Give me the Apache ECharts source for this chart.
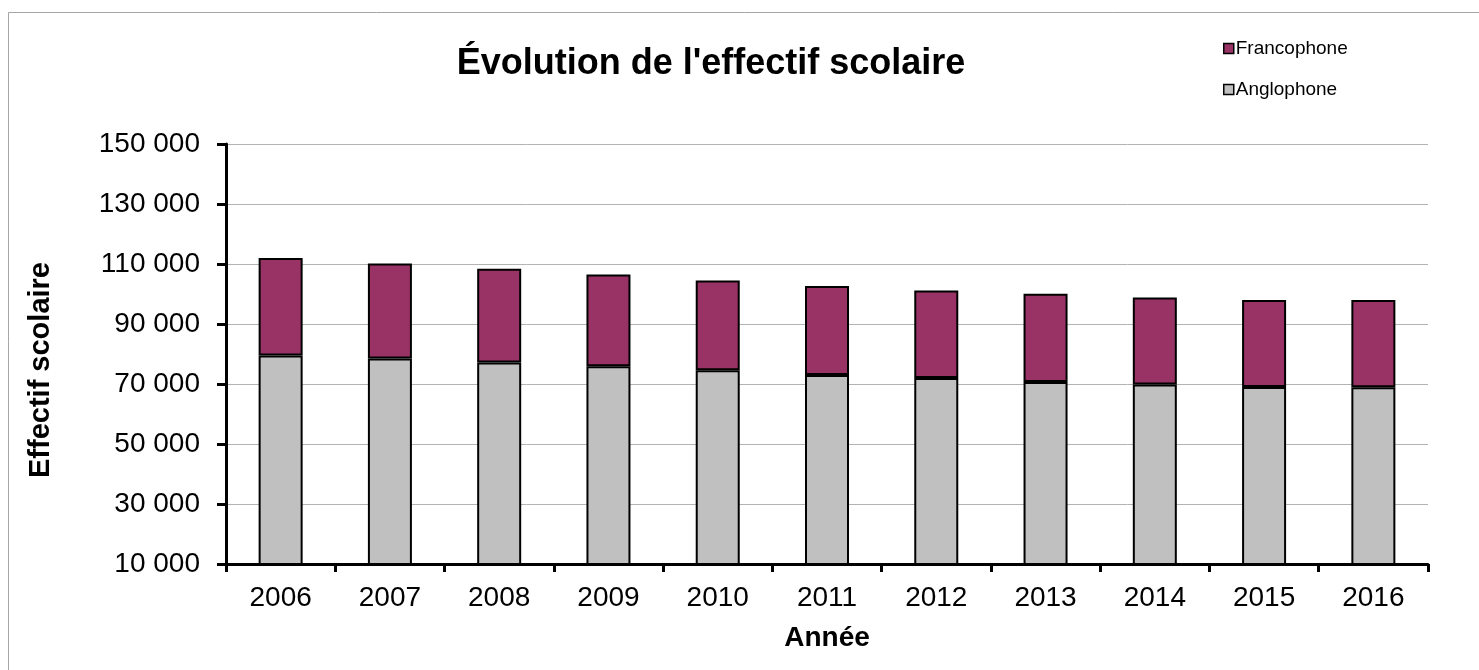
<!DOCTYPE html>
<html>
<head>
<meta charset="utf-8">
<script src="https://cdn.jsdelivr.net/npm/echarts@6/dist/echarts.min.js"></script>
<style>
  html, body { margin: 0; padding: 0; background: #fff; }
  #chart { width: 1479px; height: 670px; }
</style>
</head>
<body>
<div id="chart"></div>
<script>
// données
const annees = ['2006', '2007', '2008', '2009', '2010', '2011', '2012', '2013', '2014', '2015', '2016'];
const anglophone = [79500, 78500, 77200, 75900, 74600, 73000, 72000, 70700, 69800, 69000, 68900];
const francophone = [32500, 31700, 31200, 30600, 29900, 29650, 29200, 29400, 29050, 29000, 29100];

const police = 'Liberation Sans, Arial, sans-serif';

const chart = echarts.init(document.getElementById('chart'));

// format "150 000"
function formatMilliers(v) {
    return String(v).replace(/\B(?=(\d{3})+(?!\d))/g, ' ');
}

const option = {
    backgroundColor: '#fff',
    animation: false,
    title: {
        text: "Évolution de l'effectif scolaire",
        left: 706,
        top: 41,
        textAlign: 'center',
        textStyle: { fontFamily: police, fontSize: 36, fontWeight: 'bold', color: '#000' }
    },
    legend: {
        orient: 'vertical',
        left: 1218,
        top: 34,
        itemWidth: 10,
        itemHeight: 10,
        itemGap: 22,
        icon: 'rect',
        data: ['Francophone', 'Anglophone'],
        itemStyle: { borderColor: '#000', borderWidth: 1.5 },
        textStyle: { fontFamily: police, fontSize: 19, color: '#000', padding: [0, 0, 0, -3] }
    },
    graphic: [{
        type: 'rect',
        shape: { x: 8.5, y: 12.5, width: 1500, height: 700 },
        style: { fill: 'none', stroke: '#a6a6a6', lineWidth: 1 },
        silent: true
    }],
    grid: { left: 226, right: 51, top: 144, bottom: 106, containLabel: false },
    xAxis: {
        type: 'category',
        data: annees,
        name: 'Année',
        nameLocation: 'middle',
        nameGap: 60,
        nameTextStyle: { fontFamily: police, fontSize: 28, fontWeight: 'bold', color: '#000' },
        axisLine: { lineStyle: { color: '#000', width: 3 } },
        axisTick: { show: true, length: 8, lineStyle: { color: '#000', width: 3 } },
        axisLabel: { margin: 20, fontFamily: police, fontSize: 28, color: '#000' }
    },
    yAxis: {
        type: 'value',
        min: 10000,
        max: 150000,
        interval: 20000,
        name: 'Effectif scolaire',
        nameLocation: 'middle',
        nameGap: 171,
        nameTextStyle: {
            fontFamily: police, fontSize: 29, fontWeight: 'bold', color: '#000',
            padding: [0, 32, 0, 0]
        },
        axisLine: { show: true, lineStyle: { color: '#000', width: 3 } },
        axisTick: { show: true, length: 9, lineStyle: { color: '#000', width: 3 } },
        axisLabel: {
            margin: 26,
            fontFamily: police,
            fontSize: 28,
            color: '#000',
            formatter: formatMilliers
        },
        splitLine: { show: true, lineStyle: { color: '#b3b3b3', width: 1 } }
    },
    series: [
        {
            name: 'Anglophone',
            type: 'bar',
            stack: 'total',
            barWidth: 44,
            data: anglophone,
            itemStyle: { color: '#c0c0c0', borderColor: '#000', borderWidth: 2 }
        },
        {
            name: 'Francophone',
            type: 'bar',
            stack: 'total',
            barWidth: 44,
            data: francophone,
            itemStyle: { color: '#993366', borderColor: '#000', borderWidth: 2 }
        }
    ]
};

chart.setOption(option);
</script>
</body>
</html>
